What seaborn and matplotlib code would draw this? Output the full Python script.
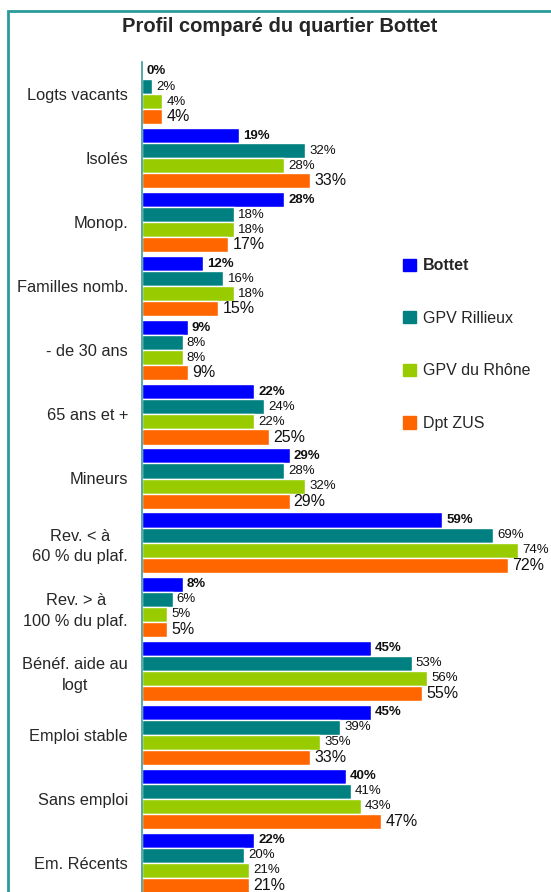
import matplotlib
matplotlib.use("Agg")
import matplotlib.pyplot as plt
from matplotlib.patches import Rectangle
import pandas as pd
import seaborn as sns

categories = ["Logts vacants", "Isolés", "Monop.", "Familles nomb.", "- de 30 ans",
              "65 ans et +", "Mineurs", "Rev. < à\n60 % du plaf.", "Rev. > à\n100 % du plaf.",
              "Bénéf. aide au\nlogt", "Emploi stable", "Sans emploi", "Em. Récents"]
zones = ["Bottet", "GPV Rillieux", "GPV du Rhône", "Dpt ZUS"]
bottet = [0, 19, 28, 12, 9, 22, 29, 59, 8, 45, 45, 40, 22]
rillieux = [2, 32, 18, 16, 8, 24, 28, 69, 6, 53, 39, 41, 20]
rhone = [4, 28, 18, 18, 8, 22, 32, 74, 5, 56, 35, 43, 21]
zus = [4, 33, 17, 15, 9, 25, 29, 72, 5, 55, 33, 47, 21]
colors = ["#0000FF", "#008080", "#99CC00", "#FF6600"]

rows = []
for zone, vals in zip(zones, [bottet, rillieux, rhone, zus]):
    for cat, v in zip(categories, vals):
        rows.append({"cat": cat, "zone": zone, "val": v})
df = pd.DataFrame(rows)

sns.set_style("white")
plt.rcParams["font.family"] = ["Liberation Sans", "DejaVu Sans"]

fig = plt.figure(figsize=(5.51, 8.92), dpi=100)
# teal frame around the chart (cut at right and bottom like the reference)
fig.patches.append(Rectangle((8 / 551, -0.05), 1.0, 1 - 11 / 892 + 0.05, transform=fig.transFigure,
                             fill=False, edgecolor="#2a9a9a", linewidth=2))
ax = fig.add_axes([142 / 551, -3 / 892, 407 / 551, 833 / 892])

sns.barplot(data=df, y="cat", x="val", hue="zone", orient="h", palette=colors,
            width=0.94, saturation=1, ax=ax, legend=False)

ax.set_xlim(0, 80)
ax.set_ylim(12.5, -0.5)
ax.set_xlabel("")
ax.set_ylabel("")
ax.set_xticks([])
for s in ["top", "right", "bottom"]:
    ax.spines[s].set_visible(False)
ax.spines["left"].set_color("#3a9a9a")
ax.spines["left"].set_linewidth(1.2)
ax.set_yticks(range(len(categories)))
ax.set_yticklabels(categories, fontsize=11.8, multialignment="center", linespacing=1.45)
ax.tick_params(axis="y", which="major", length=0, pad=10)
ax.set_yticks([i - 0.5 for i in range(len(categories) + 1)], minor=True)
ax.tick_params(axis="y", which="minor", length=4, color="#3a9a9a", width=1.2)

label_styles = [(9.5, "bold"), (9.5, "normal"), (9.5, "normal"), (11.5, "normal")]
for cont, (fs, fw) in zip(ax.containers, label_styles):
    ax.bar_label(cont, fmt="%d%%", padding=3, fontsize=fs, fontweight=fw, color="#111111")

handles = [Rectangle((0, 0), 1, 1, color=c) for c in colors]
leg = fig.legend(handles, zones, loc="upper left", bbox_to_anchor=(389 / 551, 1 - 244 / 892),
                 frameon=False, fontsize=11.5, labelspacing=2.35, handlelength=0.8,
                 handleheight=0.8, handletextpad=0.4)
leg.get_texts()[0].set_fontweight("bold")

fig.text(0.508, 1 - 27 / 892, "Profil comparé du quartier Bottet", ha="center", va="center",
         fontsize=14.5, fontweight="bold")

fig.savefig("out.png", dpi=100)
